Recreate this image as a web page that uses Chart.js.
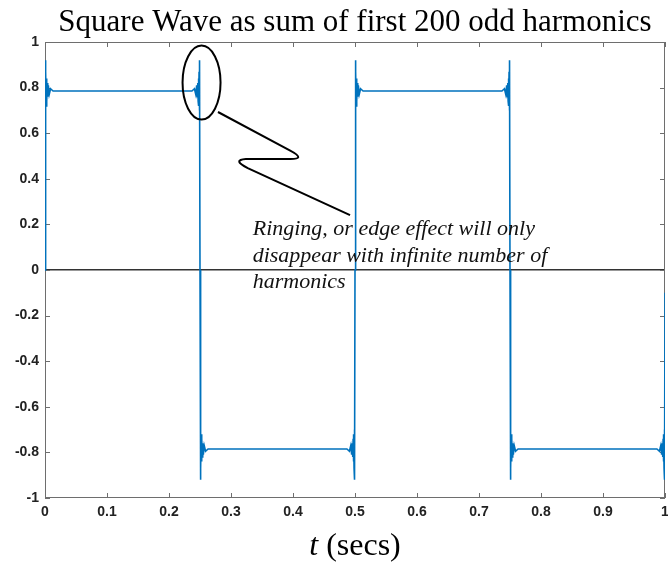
<!DOCTYPE html>
<html lang="en">
<head>
  <meta charset="utf-8" />
  <script src="https://cdn.jsdelivr.net/npm/chart.js@4.4.1/dist/chart.umd.min.js"></script>
  <style>
    html, body { margin: 0; padding: 0; background: #fff; }
    .chart-area { width: 668px; height: 563px; }
  </style>
</head>
<body>
  <div class="chart-area">
    <canvas id="wave-chart"></canvas>
  </div>

<script>
  // time (s) and amplitude, ringing blobs included
  const tVals = [
    0, 0.0005, 0.001, 0.0015, 0.002, 0.0025, 0.003, 0.0036, 0.0044, 0.0054, 0.0068, 0.009, 0.013,
    0.237, 0.241, 0.2432, 0.2446, 0.2456, 0.2464, 0.247, 0.2475, 0.248, 0.2485, 0.249, 0.2495,
    0.25,
    0.2505, 0.251, 0.2515, 0.252, 0.2525, 0.253, 0.2536, 0.2544, 0.2554, 0.2568, 0.259, 0.263,
    0.487, 0.491, 0.4932, 0.4946, 0.4956, 0.4964, 0.497, 0.4975, 0.498, 0.4985, 0.499, 0.4995,
    0.5,
    0.5005, 0.501, 0.5015, 0.502, 0.5025, 0.503, 0.5036, 0.5044, 0.5054, 0.5068, 0.509, 0.513,
    0.737, 0.741, 0.7432, 0.7446, 0.7456, 0.7464, 0.747, 0.7475, 0.748, 0.7485, 0.749, 0.7495,
    0.75,
    0.7505, 0.751, 0.7515, 0.752, 0.7525, 0.753, 0.7536, 0.7544, 0.7554, 0.7568, 0.759, 0.763,
    0.987, 0.991, 0.9932, 0.9946, 0.9956, 0.9964, 0.997, 0.9975, 0.998, 0.9985, 0.999, 0.9995,
    1
  ];
  const yVals = [
    0, 0.92, 0.70, 0.87, 0.72, 0.84, 0.74, 0.82, 0.76, 0.81, 0.77, 0.795, 0.785,
    0.785, 0.795, 0.77, 0.81, 0.76, 0.82, 0.74, 0.84, 0.72, 0.87, 0.70, 0.92,
    0,
    -0.92, -0.70, -0.87, -0.72, -0.84, -0.74, -0.82, -0.76, -0.81, -0.77, -0.795, -0.785,
    -0.785, -0.795, -0.77, -0.81, -0.76, -0.82, -0.74, -0.84, -0.72, -0.87, -0.70, -0.92,
    0,
    0.92, 0.70, 0.87, 0.72, 0.84, 0.74, 0.82, 0.76, 0.81, 0.77, 0.795, 0.785,
    0.785, 0.795, 0.77, 0.81, 0.76, 0.82, 0.74, 0.84, 0.72, 0.87, 0.70, 0.92,
    0,
    -0.92, -0.70, -0.87, -0.72, -0.84, -0.74, -0.82, -0.76, -0.81, -0.77, -0.795, -0.785,
    -0.785, -0.795, -0.77, -0.81, -0.76, -0.82, -0.74, -0.84, -0.72, -0.87, -0.70, -0.92,
    -0.1
  ];

  const xTicks = [0, 0.1, 0.2, 0.3, 0.4, 0.5, 0.6, 0.7, 0.8, 0.9, 1];
  const yTicks = [-1, -0.8, -0.6, -0.4, -0.2, 0, 0.2, 0.4, 0.6, 0.8, 1];

  const titleText = 'Square Wave as sum of first 200 odd harmonics';
  const noteLines = [
    'Ringing, or edge effect will only',
    'disappear with infinite number of',
    'harmonics'
  ];

  const wavePoints = tVals.map((t, i) => ({ x: t, y: yVals[i] }));

  // matlab style box with inward ticks on all four sides
  const boxPlugin = {
    id: 'boxPlugin',
    beforeDatasetsDraw(chart) {
      const { ctx, chartArea: a, scales } = chart;
      const len = 5;
      ctx.save();
      ctx.strokeStyle = '#6e6e6e';
      ctx.lineWidth = 1;
      ctx.strokeRect(a.left + 0.5, a.top + 0.5, a.right - a.left - 1, a.bottom - a.top - 1);
      ctx.beginPath();
      xTicks.forEach(v => {
        const px = Math.round(scales.x.getPixelForValue(v)) + 0.5;
        ctx.moveTo(px, a.bottom); ctx.lineTo(px, a.bottom - len);
        ctx.moveTo(px, a.top); ctx.lineTo(px, a.top + len);
      });
      yTicks.forEach(v => {
        const py = Math.round(scales.y.getPixelForValue(v)) + 0.5;
        ctx.moveTo(a.left, py); ctx.lineTo(a.left + len, py);
        ctx.moveTo(a.right, py); ctx.lineTo(a.right - len, py);
      });
      ctx.stroke();
      ctx.restore();
    },
    afterDraw(chart) {
      const { ctx, scales } = chart;
      const sx = scales.x, sy = scales.y;
      const mid = (sx.left + sx.right) / 2;
      ctx.save();

      // title, centred over the axes
      ctx.fillStyle = '#000';
      ctx.font = '31px "Liberation Serif"';
      ctx.textAlign = 'center';
      ctx.textBaseline = 'alphabetic';
      ctx.fillText(titleText, mid, 31);

      // ellipse round the ringing at t = 0.25
      const cx = sx.getPixelForValue(0.2525);
      const cy = sy.getPixelForValue(0.822);
      ctx.strokeStyle = '#000';
      ctx.lineWidth = 2;
      ctx.beginPath();
      ctx.ellipse(cx, cy, 19, 37, 0, 0, Math.PI * 2);
      ctx.stroke();

      // zigzag pointer
      const p = (t, y) => [sx.getPixelForValue(t), sy.getPixelForValue(y)];
      const s = p(0.279, 0.693), a1 = p(0.394, 0.526), c1 = p(0.425, 0.482), b1 = p(0.39, 0.487);
      const c2 = p(0.324, 0.487), c3 = p(0.301, 0.482), d2 = p(0.327, 0.447), e = p(0.492, 0.241);
      ctx.beginPath();
      ctx.moveTo(s[0], s[1]);
      ctx.lineTo(a1[0], a1[1]);
      ctx.quadraticCurveTo(c1[0], c1[1], b1[0], b1[1]);
      ctx.lineTo(c2[0], c2[1]);
      ctx.quadraticCurveTo(c3[0], c3[1], d2[0], d2[1]);
      ctx.lineTo(e[0], e[1]);
      ctx.stroke();

      // note text
      ctx.fillStyle = '#111';
      ctx.font = 'italic 22px "Liberation Serif"';
      ctx.textAlign = 'left';
      const nx = sx.getPixelForValue(0.335);
      noteLines.forEach((line, i) => {
        ctx.fillText(line, nx, sy.getPixelForValue(0.153) + i * 26.5);
      });

      // x axis label, italic t
      ctx.font = '32px "Liberation Serif"';
      const rest = ' (secs)';
      const wRest = ctx.measureText(rest).width;
      ctx.font = 'italic 32px "Liberation Serif"';
      const wT = ctx.measureText('t').width;
      const x0 = mid - (wT + wRest) / 2;
      const base = 555;
      ctx.fillStyle = '#000';
      ctx.fillText('t', x0, base);
      ctx.font = '32px "Liberation Serif"';
      ctx.fillText(rest, x0 + wT, base);
      ctx.restore();
    }
  };

  const tickFont = { family: '"Liberation Sans", Arial, sans-serif', size: 14, weight: 'bold' };

  const waveConfig = {
    type: 'line',
    data: {
      datasets: [{
        data: wavePoints,
        borderColor: '#0072BD',
        borderWidth: 1.6,
        pointRadius: 0,
        tension: 0,
        fill: false
      }]
    },
    options: {
      responsive: true,
      maintainAspectRatio: false,
      animation: false,
      layout: { padding: { left: 0, right: 3, top: 42, bottom: 0 } },
      plugins: {
        legend: { display: false },
        tooltip: { enabled: false },
        title: { display: false }
      },
      scales: {
        x: {
          type: 'linear',
          min: 0,
          max: 1,
          afterBuildTicks: scale => { scale.ticks = xTicks.map(v => ({ value: v })); },
          afterFit: scale => {
            scale.height = 65;
            scale.paddingLeft = 0;
            scale.paddingRight = 0;
          },
          border: { display: false },
          grid: { display: false, drawTicks: false },
          ticks: {
            color: '#222',
            font: tickFont,
            padding: 6,
            maxRotation: 0,
            callback: v => String(+v.toFixed(1))
          }
        },
        y: {
          type: 'linear',
          min: -1,
          max: 1,
          afterBuildTicks: scale => { scale.ticks = yTicks.map(v => ({ value: v })); },
          afterFit: scale => {
            scale.width = 45;
            scale.paddingTop = 0;
            scale.paddingBottom = 0;
          },
          border: { display: false },
          grid: {
            drawTicks: false,
            lineWidth: 1.5,
            color: c => (c.tick && c.tick.value === 0 ? '#333' : 'rgba(0,0,0,0)')
          },
          ticks: {
            color: '#222',
            font: tickFont,
            padding: 6,
            callback: v => String(+v.toFixed(1))
          }
        }
      }
    }
  };

  window.onload = function () {
    const ctx = document.getElementById('wave-chart').getContext('2d');
    window.waveChart = new Chart(ctx, { ...waveConfig, plugins: [boxPlugin] });
  };
</script>
</body>
</html>
